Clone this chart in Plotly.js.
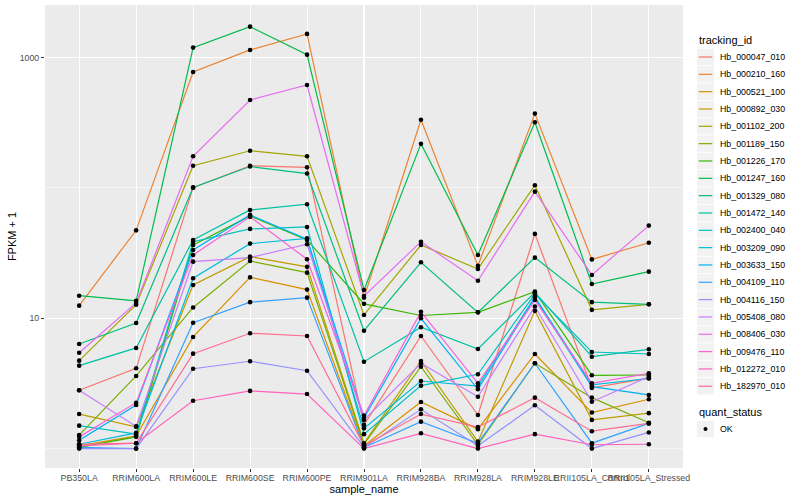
<!DOCTYPE html>
<html><head><meta charset="utf-8">
<script src="https://cdn.plot.ly/plotly-3.0.1.min.js"></script>
<style>html,body{margin:0;padding:0;background:#fff}#chart{width:800px;height:500px}</style>
</head><body><div id="chart"></div>
<script>
// x categories
const samples = ['PB350LA','RRIM600LA','RRIM600LE','RRIM600SE','RRIM600PE','RRIM901LA','RRIM928BA','RRIM928LA','RRIM928LE','RRII105LA_Control','RRII105LA_Stressed'];
// legend (tracking_id) labels
const trackingIds = ['Hb_000047_010','Hb_000210_160','Hb_000521_100','Hb_000892_030','Hb_001102_200','Hb_001189_150','Hb_001226_170','Hb_001247_160','Hb_001329_080','Hb_001472_140','Hb_002400_040','Hb_003209_090','Hb_003633_150','Hb_004109_110','Hb_004116_150','Hb_005408_080','Hb_008406_030','Hb_009476_110','Hb_012272_010','Hb_182970_010'];
const colors = ['#F8766D','#EA8331','#D89000','#C09B00','#A3A500','#7CAE00','#39B600','#00BB4E','#00BF7D','#00C1A3','#00BFC4','#00BAE0','#00B0F6','#35A2FF','#9590FF','#C77CFF','#E76BF3','#FA62DB','#FF62BC','#FF6C91'];
const quantStatus = ['OK'];

// FPKM + 1 per sample, one array per tracking_id
const hb000047_010 = [2.80, 4.13, 100.5, 148, 144, 1.52, 7.31, 1.81, 44.4, 2.92, 3.47];
const hb000210_160 = [12.5, 47.3, 776, 1146, 1521, 14.4, 334, 25.3, 372, 28.3, 38.0];
const hb000521_100 = [1.05, 1.25, 7.19, 20.6, 16.6, 1.05, 2.28, 1.41, 5.32, 1.89, 2.39];
const hb000892_030 = [1.84, 1.47, 18.0, 29.7, 24.8, 1.10, 4.70, 1.13, 11.4, 1.66, 1.87];
const hb001102_200 = [4.73, 12.7, 148, 193, 175, 10.6, 36.5, 23.9, 105, 11.6, 12.8];
const hb001189_150 = [1.27, 3.61, 12.1, 27.5, 22.4, 1.08, 4.25, 1.07, 4.52, 2.46, 1.58];
const hb001226_170 = [1.02, 1.23, 36.5, 61.0, 39.9, 12.9, 10.5, 11.1, 16.0, 3.65, 3.67];
const hb001247_160 = [14.9, 13.6, 1194, 1729, 1054, 16.5, 218, 30.6, 319, 18.3, 22.8];
const hb001329_080 = [6.35, 9.2, 101, 146, 129, 8.03, 26.9, 11.1, 29.2, 13.3, 12.8];
const hb001472_140 = [4.33, 5.92, 39.9, 67.8, 75, 4.64, 8.53, 5.81, 15.8, 5.07, 5.78];
const hb002400_040 = [1.50, 1.29, 38.7, 48.5, 50.2, 1.29, 3.04, 3.72, 15.4, 5.51, 5.32];
const hb003209_090 = [1.08, 1.32, 20.3, 37.4, 41.1, 1.43, 3.30, 3.02, 14.6, 3.08, 3.45];
const hb003633_150 = [1.16, 2.16, 33.4, 62.1, 40.5, 1.72, 10.0, 2.85, 14.3, 2.99, 2.58];
const hb004109_110 = [1.02, 1.00, 9.25, 13.3, 14.4, 1.02, 1.61, 1.10, 4.52, 1.10, 1.56];
const hb004116_150 = [1.00, 1.00, 4.10, 4.68, 3.96, 1.02, 2.00, 1.05, 2.15, 1.00, 1.33];
const hb005408_080 = [2.80, 1.48, 27.2, 29.2, 37.0, 1.66, 4.52, 2.50, 12.3, 2.29, 3.56];
const hb008406_030 = [5.44, 13.1, 175, 473, 617, 14.8, 38.7, 19.4, 93.7, 21.5, 51.4];
const hb009476_110 = [1.23, 2.25, 30.6, 60, 28.4, 1.79, 11.2, 3.17, 13.8, 3.17, 3.78];
const hb012272_010 = [1.05, 1.10, 2.33, 2.77, 2.62, 1.00, 1.31, 1.00, 1.29, 1.07, 1.08];
const hb182970_010 = [1.08, 1.10, 5.35, 7.67, 7.31, 1.05, 1.84, 1.46, 2.46, 1.36, 1.56];

const seriesValues = [hb000047_010, hb000210_160, hb000521_100, hb000892_030, hb001102_200, hb001189_150, hb001226_170, hb001247_160, hb001329_080, hb001472_140, hb002400_040, hb003209_090, hb003633_150, hb004109_110, hb004116_150, hb005408_080, hb008406_030, hb009476_110, hb012272_010, hb182970_010];

const FONT = 'Liberation Sans, Arial, Helvetica, sans-serif';
const traces = seriesValues.map((vals, i) => ({
  type: 'scatter', mode: 'lines', x: samples, y: vals, name: trackingIds[i],
  line: {color: colors[i], width: 1.2}, showlegend: false, hoverinfo: 'skip'
}));
const px = [], py = [];
seriesValues.forEach(vals => vals.forEach((v, j) => { px.push(samples[j]); py.push(v); }));
traces.push({type: 'scatter', mode: 'markers', x: px, y: py, name: quantStatus[0],
  marker: {color: '#000000', size: 4.6}, showlegend: false, hoverinfo: 'skip'});

// manual ggplot-style legend (pixel layout converted to paper coords)
const L = 45, R = 683, T = 5, B = 468;
const X = p => (p - L) / (R - L);
const Y = p => (B - p) / (B - T);
const shapes = [], annotations = [];
const keyX0 = 697, keyX1 = 714, textX = 718;
annotations.push({xref: 'paper', yref: 'paper', x: X(keyX0), y: Y(40.5), xanchor: 'left', yanchor: 'middle',
  text: 'tracking_id', showarrow: false, font: {family: FONT, size: 11, color: '#000'}});
trackingIds.forEach((id, i) => {
  const yc = 57 + i * 17.33;
  shapes.push({type: 'rect', xref: 'paper', yref: 'paper', x0: X(keyX0), x1: X(keyX1), y0: Y(yc - 8.2), y1: Y(yc + 8.2),
    fillcolor: '#F2F2F2', line: {width: 0}, layer: 'above'});
  shapes.push({type: 'line', xref: 'paper', yref: 'paper', x0: X(keyX0 + 1.7), x1: X(keyX1 - 1.7), y0: Y(yc), y1: Y(yc),
    line: {color: colors[i], width: 1.2}, layer: 'above'});
  annotations.push({xref: 'paper', yref: 'paper', x: X(textX), y: Y(yc), xanchor: 'left', yanchor: 'middle',
    text: id, showarrow: false, font: {family: FONT, size: 8.8, color: '#000'}});
});
annotations.push({xref: 'paper', yref: 'paper', x: X(keyX0), y: Y(412.3), xanchor: 'left', yanchor: 'middle',
  text: 'quant_status', showarrow: false, font: {family: FONT, size: 11, color: '#000'}});
shapes.push({type: 'rect', xref: 'paper', yref: 'paper', x0: X(keyX0), x1: X(keyX1), y0: Y(429 - 8.2), y1: Y(429 + 8.2),
  fillcolor: '#F2F2F2', line: {width: 0}, layer: 'above'});
shapes.push({type: 'circle', xref: 'paper', yref: 'paper', x0: X(703.5), x1: X(707.5), y0: Y(431), y1: Y(427),
  fillcolor: '#000', line: {width: 0}, layer: 'above'});
annotations.push({xref: 'paper', yref: 'paper', x: X(textX), y: Y(429), xanchor: 'left', yanchor: 'middle',
  text: quantStatus[0], showarrow: false, font: {family: FONT, size: 8.8, color: '#000'}});

const layout = {
  width: 800, height: 500,
  margin: {l: L, r: 800 - R, t: T, b: 500 - B, pad: 0},
  paper_bgcolor: '#FFFFFF', plot_bgcolor: '#EBEBEB',
  font: {family: FONT},
  showlegend: false, hovermode: false,
  xaxis: {
    type: 'category', categoryorder: 'array', categoryarray: samples,
    range: [-0.6, samples.length - 0.4], tickangle: 0,
    showgrid: true, gridcolor: '#FFFFFF', gridwidth: 1.07, zeroline: false, showline: false,
    ticks: 'outside', ticklen: 3, tickwidth: 1, tickcolor: '#333333',
    tickfont: {family: FONT, size: 8.8, color: '#4D4D4D'}, ticklabelstandoff: -2,
    title: {text: 'sample_name', font: {family: FONT, size: 11, color: '#000'}, standoff: 0},
    automargin: false, fixedrange: true
  },
  yaxis: {
    type: 'log', range: [-0.149, 3.404],
    tickmode: 'array', tickvals: [10, 1000], ticktext: ['10', '1000'],
    showgrid: true, gridcolor: '#FFFFFF', gridwidth: 1.07, zeroline: false, showline: false,
    ticks: 'outside', ticklen: 3, tickwidth: 1, tickcolor: '#333333',
    tickfont: {family: FONT, size: 8.8, color: '#4D4D4D'},
    minor: {tickmode: 'array', tickvals: [1, 100], showgrid: true, gridcolor: '#FFFFFF', gridwidth: 0.55, ticks: ''},
    title: {text: 'FPKM + 1', font: {family: FONT, size: 11, color: '#000'}, standoff: 0},
    automargin: false, fixedrange: true
  },
  shapes: shapes, annotations: annotations
};
Plotly.newPlot('chart', traces, layout, {staticPlot: true, displayModeBar: false});
</script></body></html>
